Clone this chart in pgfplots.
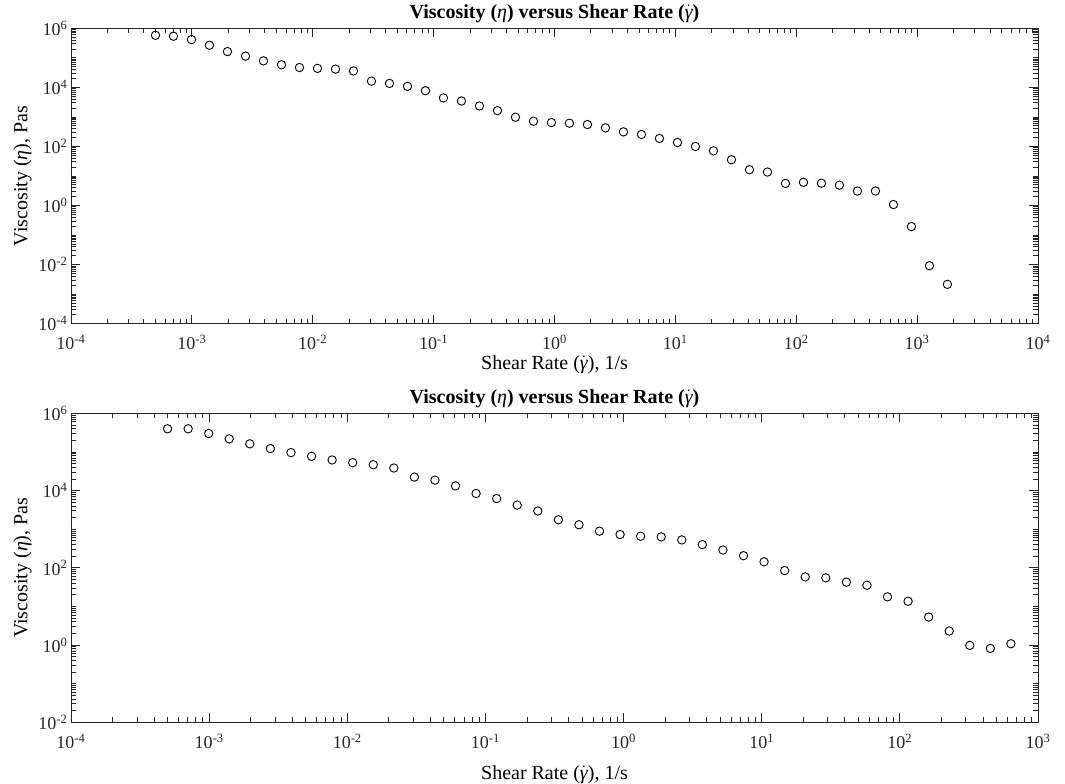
\documentclass[border=0pt]{standalone}
\usepackage{fontspec}
\setmainfont{Liberation Serif}
\usepackage{pgfplots}
\pgfplotsset{compat=1.18}
\newcommand\gd{$\dot{\mbox{\mdseries\itshape γ}}$}
\pgfplotsset{
  visc/.style={
    scale only axis, width=967pt,
    axis line style={black!85, line width=0.8pt},
    every tick/.style={black!85, line width=0.8pt},
    major tick length=9pt, minor tick length=5pt,
    tick align=inside,
    tick label style={font=\fontsize{18}{20}\selectfont, text=black!85},
    xticklabel style={yshift=-8pt},
    label style={font=\fontsize{20}{22}\selectfont},
    title style={font=\bfseries\fontsize{20}{22}\selectfont, yshift=-4pt},
    xlabel={Shear Rate (\gd), 1/s},
    ylabel={Viscosity ({\itshape η}), Pas},
    title={Viscosity ({\mdseries\itshape η}) versus Shear Rate (\gd)},
    xlabel style={yshift=1pt},
    ylabel style={yshift=0pt},
  },
  mk/.style={only marks, mark=o, mark size=4.2pt, mark options={line width=0.9pt, black}},
}
\begin{document}
\begin{tikzpicture}[x=1pt,y=1pt]
\useasboundingbox (0,0) rectangle (1065,784);
\begin{loglogaxis}[visc,
  at={(71pt,460.3pt)}, anchor=south west, height=295.4pt,
  xmin=1e-4, xmax=1e4, ymin=1e-4, ymax=1e6,
  xtick={1e-4,1e-3,1e-2,1e-1,1,1e1,1e2,1e3,1e4},
  xticklabels={10\textsuperscript{-4},10\textsuperscript{-3},10\textsuperscript{-2},10\textsuperscript{-1},10\textsuperscript{0},10\textsuperscript{1},10\textsuperscript{2},10\textsuperscript{3},10\textsuperscript{4}},
  minor xtick={2e-4,3e-4,4e-4,5e-4,6e-4,7e-4,8e-4,9e-4,2e-3,3e-3,4e-3,5e-3,6e-3,7e-3,8e-3,9e-3,2e-2,3e-2,4e-2,5e-2,6e-2,7e-2,8e-2,9e-2,0.2,0.3,0.4,0.5,0.6,0.7,0.8,0.9,2,3,4,5,6,7,8,9,20,30,40,50,60,70,80,90,200,300,400,500,600,700,800,900,2000,3000,4000,5000,6000,7000,8000,9000},
  ytick={1e-4,1e-2,1,1e2,1e4,1e6},
  yticklabels={10\textsuperscript{-4},10\textsuperscript{-2},10\textsuperscript{0},10\textsuperscript{2},10\textsuperscript{4},10\textsuperscript{6}},
  minor ytick={2e-4,3e-4,4e-4,5e-4,6e-4,7e-4,8e-4,9e-4,1e-3,2e-3,3e-3,4e-3,5e-3,6e-3,7e-3,8e-3,9e-3,2e-2,3e-2,4e-2,5e-2,6e-2,7e-2,8e-2,9e-2,0.1,0.2,0.3,0.4,0.5,0.6,0.7,0.8,0.9,2,3,4,5,6,7,8,9,10,20,30,40,50,60,70,80,90,200,300,400,500,600,700,800,900,1000,2000,3000,4000,5000,6000,7000,8000,9000,2e4,3e4,4e4,5e4,6e4,7e4,8e4,9e4,1e5,2e5,3e5,4e5,5e5,6e5,7e5,8e5,9e5},
]
\addplot[mk] table {
x y
5.00e-4 5.8e5
7.05e-4 5.4e5
9.93e-4 4.15e5
1.398e-3 2.67e5
1.970e-3 1.63e5
2.777e-3 1.14e5
3.913e-3 7.9e4
5.512e-3 5.8e4
7.768e-3 4.7e4
0.01094 4.4e4
0.01542 4.15e4
0.02173 3.6e4
0.03061 1.63e4
0.04312 1.36e4
0.06075 1.08e4
0.0856 7.7e3
0.1206 4.4e3
0.1699 3.46e3
0.2394 2.35e3
0.3373 1.63e3
0.4753 975
0.6697 714
0.9436 644
1.329 612
1.873 552
2.639 426
3.719 312
5.240 254
7.383 186
10.40 136
14.66 100
20.65 71
29.10 35.5
41.00 16.3
57.77 13.6
81.39 5.6
114.7 6.1
161.6 5.7
227.7 4.9
320.8 3.1
451.9 3.1
636.8 1.08
897.2 0.194
1264 0.0092
1781 0.00215
};
\end{loglogaxis}
\begin{loglogaxis}[visc,
  at={(71pt,61.7pt)}, anchor=south west, height=309pt,
  xmin=1e-4, xmax=1e3, ymin=1e-2, ymax=1e6,
  xlabel style={yshift=-11pt},
  xtick={1e-4,1e-3,1e-2,1e-1,1,1e1,1e2,1e3},
  xticklabels={10\textsuperscript{-4},10\textsuperscript{-3},10\textsuperscript{-2},10\textsuperscript{-1},10\textsuperscript{0},10\textsuperscript{1},10\textsuperscript{2},10\textsuperscript{3}},
  minor xtick={2e-4,3e-4,4e-4,5e-4,6e-4,7e-4,8e-4,9e-4,2e-3,3e-3,4e-3,5e-3,6e-3,7e-3,8e-3,9e-3,2e-2,3e-2,4e-2,5e-2,6e-2,7e-2,8e-2,9e-2,0.2,0.3,0.4,0.5,0.6,0.7,0.8,0.9,2,3,4,5,6,7,8,9,20,30,40,50,60,70,80,90,200,300,400,500,600,700,800,900},
  ytick={1e-2,1,1e2,1e4,1e6},
  yticklabels={10\textsuperscript{-2},10\textsuperscript{0},10\textsuperscript{2},10\textsuperscript{4},10\textsuperscript{6}},
  minor ytick={2e-2,3e-2,4e-2,5e-2,6e-2,7e-2,8e-2,9e-2,0.1,0.2,0.3,0.4,0.5,0.6,0.7,0.8,0.9,2,3,4,5,6,7,8,9,10,20,30,40,50,60,70,80,90,200,300,400,500,600,700,800,900,1000,2000,3000,4000,5000,6000,7000,8000,9000,2e4,3e4,4e4,5e4,6e4,7e4,8e4,9e4,1e5,2e5,3e5,4e5,5e5,6e5,7e5,8e5,9e5},
]
\addplot[mk] table {
x y
5.00e-4 3.98e5
7.05e-4 3.98e5
9.93e-4 3.0e5
1.398e-3 2.18e5
1.970e-3 1.62e5
2.777e-3 1.22e5
3.913e-3 9.6e4
5.512e-3 7.7e4
7.768e-3 6.2e4
0.01094 5.27e4
0.01542 4.68e4
0.02173 3.83e4
0.03061 2.23e4
0.04312 1.86e4
0.06075 1.32e4
0.0856 8.4e3
0.1206 6.2e3
0.1699 4.2e3
0.2394 2.95e3
0.3373 1.75e3
0.4753 1.30e3
0.6697 887
0.9436 726
1.329 657
1.873 631
2.639 527
3.719 398
5.240 289
7.383 206
10.40 143
14.66 85
20.65 58
29.10 55
41.00 42.5
57.77 35.3
81.39 17.7
114.7 13.6
161.6 5.3
227.7 2.31
320.8 0.98
451.9 0.82
636.8 1.08
};
\end{loglogaxis}
\end{tikzpicture}
\end{document}
